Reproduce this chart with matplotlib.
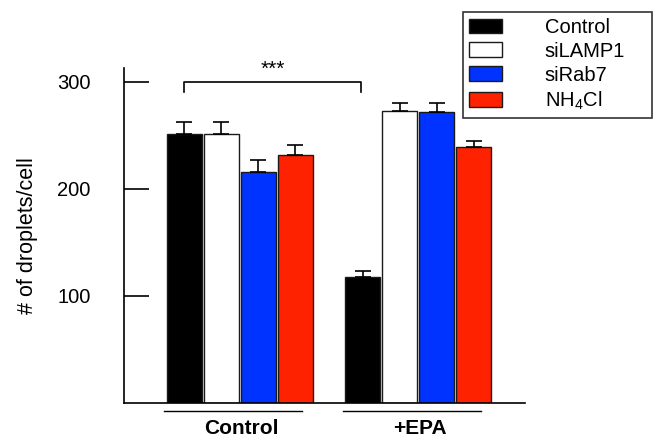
import matplotlib
matplotlib.use('Agg')
import matplotlib.pyplot as plt
import numpy as np

plt.rcParams['font.family'] = ['Liberation Sans', 'DejaVu Sans']
plt.rcParams['mathtext.default'] = 'regular'

# data
groups = ['Control', '+EPA']
series = ['Control', 'siLAMP1', 'siRab7', r'NH$_4$Cl']
colors = ['#000000', '#ffffff', '#0033ff', '#ff2200']
means = {
    'Control': [251, 118],
    'siLAMP1': [251, 273],
    'siRab7': [216, 272],
    r'NH$_4$Cl': [232, 239],
}
errs = {
    'Control': [12, 5],
    'siLAMP1': [12, 7.5],
    'siRab7': [11, 8],
    r'NH$_4$Cl': [9.5, 5.5],
}
yticks = [100, 200, 300]

fig = plt.figure(figsize=(6.54, 4.42), dpi=100)
ax = fig.add_axes([124 / 654, 39 / 442, 401 / 654, 335 / 442])

x = np.arange(len(groups))
width = 0.196
step = 0.207
offsets = (np.arange(len(series)) - 1.5) * step

for i, s in enumerate(series):
    ax.bar(x + offsets[i], means[s], width, color=colors[i],
           edgecolor='#1a1a1a', linewidth=1.0, label=s, zorder=2)
    ax.errorbar(x + offsets[i], means[s],
                yerr=[np.zeros(len(groups)), errs[s]],
                fmt='none', ecolor='black', elinewidth=1.2,
                capsize=5.8, capthick=1.2, zorder=3)

ax.set_xlim(-0.6476, 1.596)
ax.set_ylim(0, 313)
ax.set_yticks(yticks)
ax.set_xticks([])
ax.tick_params(axis='y', direction='in', length=18, width=1.2,
               labelsize=14.5, pad=24)
ax.spines['top'].set_visible(False)
ax.spines['right'].set_visible(False)
ax.spines['left'].set_linewidth(1.2)
ax.spines['bottom'].set_linewidth(1.2)
ax.set_ylabel('# of droplets/cell', fontsize=15.5, labelpad=14)

# significance bracket
x0 = x[0] + offsets[0]
x1 = x[1] + offsets[0] - 0.01
ax.plot([x0, x0, x1, x1], [291, 300, 300, 291], color='black', lw=1.2,
        clip_on=False)
ax.text((x0 + x1) / 2, 303, '***', ha='center', va='bottom', fontsize=15)

# group lines and labels under the axis
for xi, g in zip(x, groups):
    ax.plot([xi - 0.424, xi + 0.348], [-7.2, -7.2], color='black', lw=1.0,
            clip_on=False)
    ax.text(xi + 0.01, -24, g, ha='center', va='center', fontsize=15,
            fontweight='bold')

leg = ax.legend(loc='upper left',
                bbox_to_anchor=(463 / 654, 1 - 113 / 442, 189 / 654, 101 / 442),
                bbox_transform=fig.transFigure, mode='expand', fontsize=14.5,
                frameon=True, fancybox=False, handlelength=1.65,
                handleheight=0.75, handletextpad=2.1, labelspacing=0.24,
                borderpad=0.3, borderaxespad=0)
leg.get_frame().set_edgecolor('black')
leg.get_frame().set_linewidth(1.2)

fig.savefig('out.png', dpi=100)
